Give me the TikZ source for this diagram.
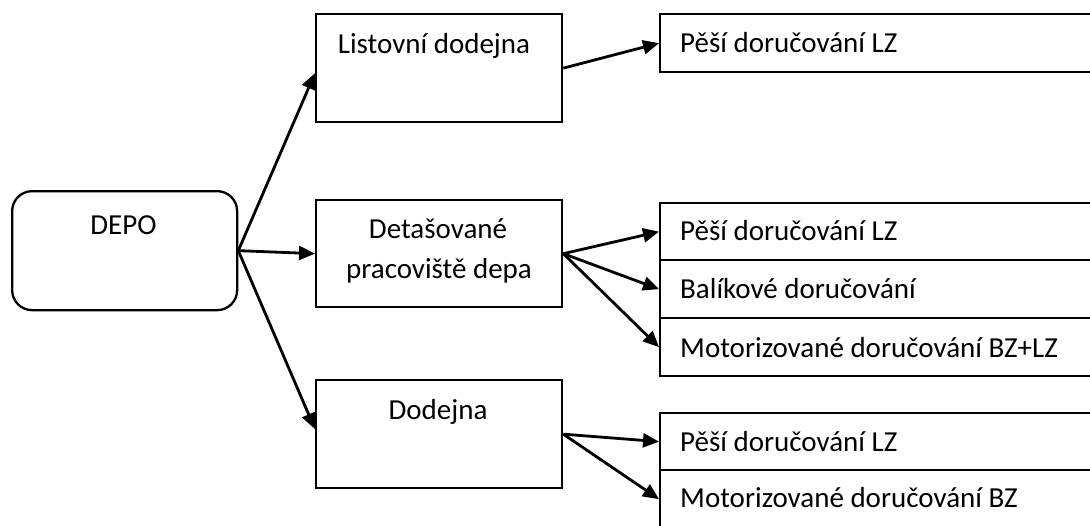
\documentclass[tikz,border=0pt]{standalone}
\usepackage{fontspec}
\setmainfont{Carlito}
\usetikzlibrary{arrows.meta,calc}
\begin{document}
\begin{tikzpicture}[x=1pt,y=-1pt,
  box/.style={draw,line width=2.3pt,rectangle,inner sep=0pt,anchor=north west},
  lbl/.style={anchor=base,inner sep=0pt,font=\fontsize{29}{40}\selectfont},
  rlbl/.style={anchor=base west,inner sep=0pt,font=\fontsize{29}{40}\selectfont},
  arr/.style={line width=2.8pt,-{Triangle[length=16pt,width=14pt]}}]
\useasboundingbox (0,0) rectangle (1090,525);
% boxes
\node[box,rounded corners=20pt,minimum width=225pt,minimum height=119pt] (DEPO) at (11,190) {};
\node[box,minimum width=246pt,minimum height=108pt] (L) at (315,13) {};
\node[box,minimum width=246pt,minimum height=107pt] (D) at (315,199) {};
\node[box,minimum width=246pt,minimum height=108pt] (D3) at (315,379) {};
\node[box,minimum width=436pt,minimum height=58pt] (r1) at (659,13) {};
\node[box,minimum width=436pt,minimum height=57pt] (m1) at (659,202) {};
\node[box,minimum width=436pt,minimum height=58pt] (m2) at (659,259) {};
\node[box,minimum width=436pt,minimum height=58pt] (m3) at (659,317) {};
\node[box,minimum width=436pt,minimum height=57pt] (b1) at (659,412) {};
\node[box,minimum width=436pt,minimum height=58pt] (b2) at (659,469) {};
% labels
\node[lbl] (tDEPO) at (123.5,234) {DEPO};
\node[lbl] (tL) at (434,53) {Listovní dodejna};
\node[lbl] (tD1) at (438,238) {Detašované};
\node[lbl] (tD2) at (439,278) {pracoviště depa};
\node[lbl] (tD3) at (438,419) {Dodejna};
\node[rlbl] (tr1) at (680,52) {Pěší doručování LZ};
\node[rlbl] (tm1) at (680,240) {Pěší doručování LZ};
\node[rlbl] (tm2) at (680,298) {Balíkové doručování};
\node[rlbl] (tm3) at (680,357) {Motorizované doručování BZ+LZ};
\node[rlbl] (tb1) at (680,451) {Pěší doručování LZ};
\node[rlbl] (tb2) at (680,507) {Motorizované doručování BZ};
% arrows
\draw[arr] (DEPO.east) -- ($(L.west)+(0,5)$);
\draw[arr] (DEPO.east) -- (D.west);
\draw[arr] (DEPO.east) -- ($(D3.west)+(0,-5)$);
\draw[arr] (L.east) -- (r1.west);
\draw[arr] (D.east) -- (m1.west);
\draw[arr] (D.east) -- (m2.west);
\draw[arr] (D.east) -- (m3.west);
\draw[arr] (D3.east) -- (b1.west);
\draw[arr] (D3.east) -- (b2.west);
\end{tikzpicture}
\end{document}
